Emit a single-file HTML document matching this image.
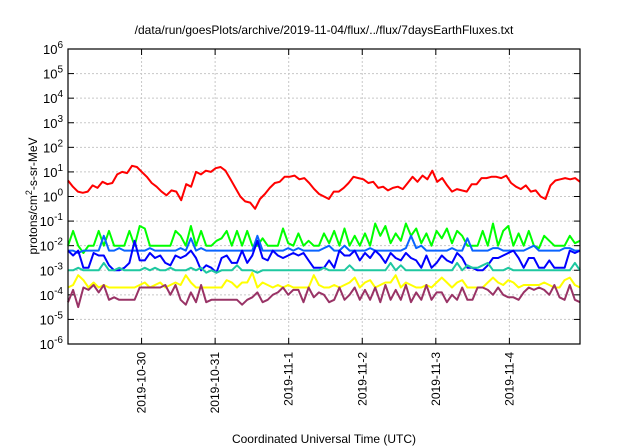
<!DOCTYPE html>
<html><head><meta charset="utf-8"><style>
body{margin:0;background:#fff;}
svg{display:block;font-family:"Liberation Sans",sans-serif;}
</style></head><body>
<svg id="chart" width="640" height="448"></svg>
<script>
const xTickLabels=["2019-10-30","2019-10-31","2019-11-1","2019-11-2","2019-11-3","2019-11-4"];
const xTickDays=[1,2,3,4,5,6];
const yTickExps=[-6,-5,-4,-3,-2,-1,0,1,2,3,4,5,6];
const redVals=[0.65,0.4,0.2,0.15,0.2,0.45,0.35,0.6,0.5,0.55,0.9,1.0,0.95,1.25,1.2,1.0,0.8,0.55,0.4,0.2,0.05,0.25,0.2,-0.15,0.5,0.4,1.0,0.9,1.05,1.0,1.15,1.2,1.05,0.7,0.35,0.0,-0.2,-0.25,-0.5,-0.1,0.1,0.35,0.55,0.6,0.8,0.8,0.85,0.7,0.75,0.55,0.3,0.1,0.0,-0.1,0.2,0.2,0.35,0.55,0.8,0.75,0.7,0.55,0.6,0.35,0.4,0.25,0.35,0.4,0.3,0.55,0.8,0.6,0.85,0.7,1.05,0.6,0.75,0.45,0.2,0.3,0.25,0.2,0.5,0.5,0.75,0.75,0.8,0.8,0.75,0.85,0.55,0.4,0.3,0.45,0.2,0.25,0.0,-0.1,0.45,0.65,0.7,0.75,0.7,0.75,0.6];
const greenVals=[-2,-1.4,-2,-2.3,-2,-2,-1.4,-2,-1.4,-2,-2,-2,-1.4,-2,-1.2,-1.3,-2,-2,-2,-2,-2,-1.4,-1.6,-2,-1.2,-2,-1.4,-2,-2,-1.8,-1.7,-1.4,-2,-1.4,-2,-1.4,-2,-2,-1.7,-2,-2,-2,-1.3,-1.9,-2,-1.5,-2,-1.8,-2,-2,-1.5,-1.9,-1.4,-2,-1.3,-2,-1.6,-2,-1.5,-2,-1.1,-1.6,-1.2,-1.9,-1.5,-1.8,-1.1,-1.6,-1.3,-1.9,-1.5,-2,-1.4,-1.7,-1.3,-1.9,-1.4,-1.6,-2,-2,-2,-1.4,-2,-1.1,-2,-1.4,-1.2,-2,-1.5,-2,-1.4,-2,-2.1,-1.6,-1.8,-2,-2,-2,-1.6,-1.9,-1.8];
const lblueVals=[-2.2,-2.2,-2.3,-2.2,-2.2,-2.2,-2.2,-1.6,-2.2,-2.2,-2.1,-2.2,-2.2,-2.2,-2.2,-2.2,-2.1,-2.2,-2.2,-2.2,-2.2,-2.2,-2.1,-2.2,-1.7,-2.2,-2.1,-2.2,-2.2,-2.2,-2.2,-2.2,-2.2,-2.2,-2.2,-2.2,-2.2,-1.6,-2.2,-2.2,-2.2,-2.2,-2.2,-2.1,-2.2,-2.1,-2.2,-2.2,-2.2,-2.2,-2.1,-2.0,-2.2,-2.2,-2.0,-2.2,-2.2,-2.2,-2.2,-2.1,-2.2,-2.2,-2.2,-2.2,-2.2,-2.2,-2.1,-1.6,-2.1,-2.0,-2.2,-2.2,-2.2,-2.2,-2.2,-2.1,-2.2,-2.2,-1.7,-2.2,-2.2,-2.2,-2.2,-2.1,-2.1,-2.2,-2.2,-2.2,-2.2,-2.2,-2.1,-2.0,-2.2,-2.2,-2.2,-2.2,-2.2,-2.1,-2.1,-2.2,-2.2];
const dblueVals=[-2.2,-2.4,-2.2,-2.9,-2.9,-2.3,-2.4,-2.4,-2.8,-3.0,-3.0,-2.9,-2.7,-1.8,-2.6,-2.6,-2.3,-2.5,-2.4,-2.7,-2.8,-2.4,-2.5,-2.4,-2.2,-2.5,-3.0,-2.8,-2.9,-3.1,-2.5,-2.4,-2.7,-2.7,-2.2,-2.7,-2.4,-1.8,-2.5,-2.6,-2.2,-2.4,-2.5,-2.4,-2.3,-2.4,-2.3,-2.6,-2.9,-2.9,-2.9,-2.6,-2.9,-2.2,-2.4,-2.4,-2.2,-2.6,-2.3,-2.5,-2.2,-2.4,-2.7,-2.3,-2.5,-2.6,-2.3,-2.5,-2.6,-2.9,-2.4,-2.9,-2.7,-2.4,-2.6,-2.7,-2.3,-2.5,-2.9,-2.9,-3.0,-3.0,-2.8,-2.5,-2.5,-2.4,-2.3,-2.2,-2.5,-2.9,-2.5,-2.5,-2.9,-2.9,-2.6,-2.9,-2.9,-2.9,-2.2,-2.3,-2.2];
const tealVals=[-3,-3,-2.9,-3,-3,-3,-3,-2.7,-3,-3,-2.9,-3,-3,-3,-3,-2.9,-3,-2.9,-3,-3,-2.9,-3,-3,-3,-2.9,-3,-2.9,-3.1,-3,-3.1,-3,-3,-3,-2.8,-3,-3,-3,-3.1,-3,-3,-3,-3,-3,-3,-3,-3,-3,-3,-3,-3,-2.9,-3,-3,-3,-3,-2.8,-3,-3,-3,-3,-3,-3,-3,-2.7,-3,-2.8,-3,-3,-3,-3,-3,-3,-3,-3,-3,-3,-2.7,-3,-2.8,-2.9,-2.9,-2.8,-2.7,-3,-3,-3,-2.9,-3,-3,-3,-3,-3,-3,-3,-3,-3,-3,-3,-3,-2.7,-3];
const yellowVals=[-3.7,-3.6,-3.2,-3.4,-3.7,-3.5,-3.7,-3.6,-3.7,-3.7,-3.7,-3.7,-3.7,-3.7,-3.6,-3.5,-3.7,-3.6,-3.5,-3.7,-3.6,-3.5,-3.6,-3.2,-3.5,-3.7,-3.7,-3.7,-3.7,-3.7,-3.7,-3.4,-3.5,-3.7,-3.5,-3.5,-3.1,-3.7,-3.5,-3.6,-3.7,-3.6,-3.7,-3.6,-3.7,-3.7,-3.7,-3.7,-3.2,-3.6,-3.7,-3.7,-3.6,-3.7,-3.6,-3.5,-3.3,-3.7,-3.5,-3.4,-3.7,-3.6,-3.5,-3.5,-3.2,-3.7,-3.5,-3.6,-3.7,-3.7,-3.6,-3.7,-3.5,-3.3,-3.5,-3.7,-3.5,-3.4,-3.7,-3.7,-3.7,-3.7,-3.5,-3.3,-3.5,-3.6,-3.4,-3.5,-3.7,-3.6,-3.6,-3.6,-3.6,-3.5,-3.6,-3.7,-3.7,-3.4,-3.3,-3.6,-3.7];
const purpleVals=[-4.3,-3.8,-4.5,-3.7,-3.8,-3.6,-3.9,-3.6,-4.2,-4.1,-4.2,-4.2,-4.2,-4.2,-3.7,-3.7,-3.7,-3.7,-3.7,-3.6,-4.0,-3.6,-4.2,-4.4,-3.9,-4.3,-3.6,-4.3,-4.2,-4.2,-4.2,-4.2,-4.2,-4.2,-4.4,-4.2,-4.1,-3.9,-4.3,-4.2,-4.0,-3.9,-3.7,-4.0,-3.8,-3.8,-4.3,-3.7,-4.1,-3.9,-4.0,-4.3,-4.2,-3.7,-4.2,-4.0,-3.7,-4.2,-3.8,-4.2,-3.7,-4.3,-3.6,-4.2,-3.8,-4.2,-3.6,-4.3,-3.9,-4.2,-3.6,-4.2,-3.9,-3.9,-4.3,-4.0,-4.2,-3.7,-4.2,-4.2,-3.7,-3.7,-3.8,-4.0,-3.7,-4.0,-4.1,-4.1,-4.2,-3.9,-3.7,-3.8,-3.7,-3.8,-4.0,-3.6,-4.1,-4.2,-3.6,-4.2,-4.3];
const seriesColors=["#ff0000","#00ff00","#0a64ff","#0000ff","#1ec8a0","#ffff00","#993366"];

const NS="http://www.w3.org/2000/svg";
const svg=document.getElementById('chart');
const L=68,R=580,T=49,B=344,D0=0,D1=6.96,E0=-6,E1=6;
function xs(d){return L+(d-D0)/(D1-D0)*(R-L);}
function ys(e){return B-(e-E0)/(E1-E0)*(B-T);}
function mk(tag,attrs,parent){const el=document.createElementNS(NS,tag);for(const k in attrs)el.setAttribute(k,attrs[k]);(parent||svg).appendChild(el);return el;}

yTickExps.forEach(e=>{
  if(e>E0&&e<E1){const g=mk('line',{x1:L,x2:R,y1:ys(e),y2:ys(e),stroke:'#c8c8c8','stroke-dasharray':'2,2','stroke-width':1});
  
  }
  const t1=mk('line',{x1:L,x2:L+6,y1:ys(e),y2:ys(e),stroke:'#000'});
  
  
  const t2=mk('line',{x1:R-6,x2:R,y1:ys(e),y2:ys(e),stroke:'#000'});
  
  
  const lab=mk('text',{x:L-5,y:ys(e)+5,'text-anchor':'end','font-size':13});
  
  
  lab.appendChild(document.createTextNode('10'));
  const sp=mk('tspan',{dy:-6,'font-size':10},lab);sp.textContent=String(e);
});
xTickDays.forEach((d,i)=>{
  const g=mk('line',{x1:xs(d),x2:xs(d),y1:T,y2:B,stroke:'#c8c8c8','stroke-dasharray':'2,2'});
  
  
  const t=mk('line',{x1:xs(d),x2:xs(d),y1:B-6,y2:B,stroke:'#000'});
  
  
  const t2=mk('line',{x1:xs(d),x2:xs(d),y1:T,y2:T+6,stroke:'#000'});
  
  
  const lab=mk('text',{x:0,y:0,'text-anchor':'end','font-size':12,transform:`translate(${xs(d)+4},${B+8}) rotate(-90)`});
  
  
  lab.textContent=xTickLabels[i];
});
[redVals,greenVals,lblueVals,dblueVals,tealVals,yellowVals,purpleVals].forEach((vals,si)=>{
  const n=vals.length;
  const pts=vals.map((v,i)=>xs(D0+i*(D1-D0)/(n-1)).toFixed(1)+','+ys(v).toFixed(1)).join(' ');
  const p=mk('polyline',{points:pts,fill:'none',stroke:seriesColors[si],'stroke-width':2,'stroke-linejoin':'round'});
  
  
});
const fr=mk('rect',{x:L,y:T,width:R-L,height:B-T,fill:'none',stroke:'#000','stroke-width':1.2});


const ti=mk('text',{x:324,y:34,'text-anchor':'middle','font-size':12});


ti.textContent='/data/run/goesPlots/archive/2019-11-04/flux/../flux/7daysEarthFluxes.txt';
const xl=mk('text',{x:324,y:443,'text-anchor':'middle','font-size':12});


xl.textContent='Coordinated Universal Time (UTC)';
const yl=mk('text',{x:0,y:0,'text-anchor':'middle','font-size':12,transform:'translate(37,196) rotate(-90)'});


yl.appendChild(document.createTextNode('protons/cm'));
const s2=mk('tspan',{dy:-5,'font-size':9},yl);s2.textContent='2';
const s3=mk('tspan',{dy:5},yl);s3.textContent='-s-sr-MeV';
</script>
</body></html>
